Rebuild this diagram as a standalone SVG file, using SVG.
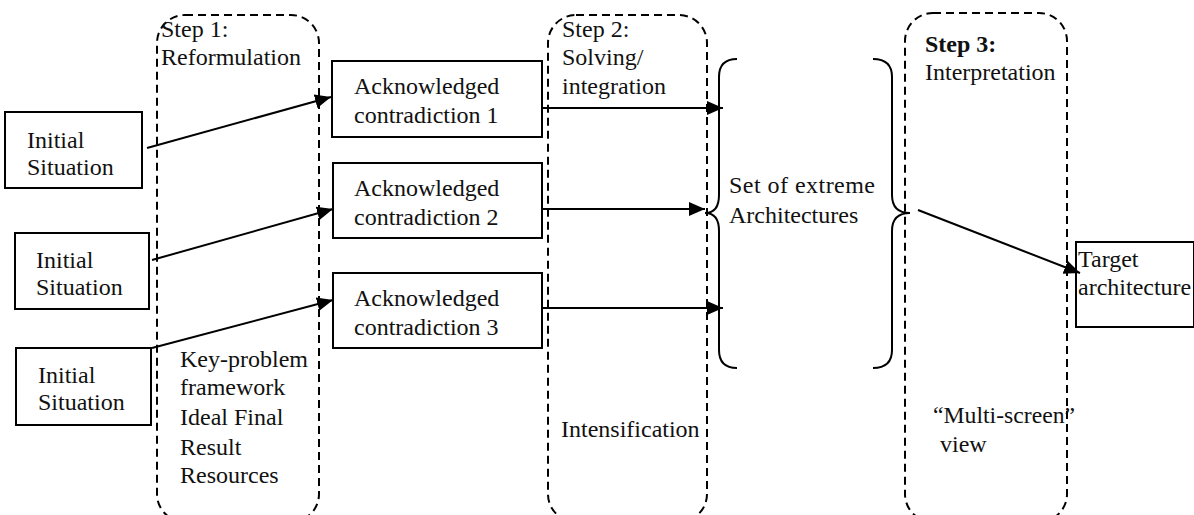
<svg xmlns="http://www.w3.org/2000/svg" width="1194" height="515" viewBox="0 0 1194 515">
<style>
text{font-family:"Liberation Serif","Times New Roman",Times,serif;font-size:24px;fill:#111}
.box{fill:#fff;stroke:#000;stroke-width:2}
.step{fill:none;stroke:#000;stroke-width:2;stroke-dasharray:8 5}
.conn{fill:none;stroke:#000;stroke-width:2}
.b{font-weight:bold}
</style>
<defs>
<marker id="arr" markerUnits="userSpaceOnUse" markerWidth="18" markerHeight="16" refX="16" refY="7" orient="auto">
<path d="M0,0 L16,7 L0,14 Z" fill="#000"/>
</marker>
</defs>
<rect width="1194" height="515" fill="#fff"/>
<g id="step1">
<rect class="step" x="157" y="15" width="162" height="507" rx="28"/>
<text x="161" y="37">Step 1:</text>
<text x="161" y="65">Reformulation</text>
<text x="180" y="367">Key-problem</text>
<text x="180" y="395">framework</text>
<text x="180" y="425">Ideal Final</text>
<text x="180" y="455">Result</text>
<text x="180" y="483">Resources</text>
</g>
<g id="step2">
<rect class="step" x="548" y="15" width="159" height="507" rx="28"/>
<text x="562" y="37">Step 2:</text>
<text x="562" y="65">Solving/</text>
<text x="562" y="94">integration</text>
<text x="561" y="437">Intensification</text>
</g>
<g id="step3">
<rect class="step" x="905" y="13" width="162" height="509" rx="28"/>
<text class="b" x="925" y="52">Step 3:</text>
<text x="925" y="80">Interpretation</text>
<text x="933" y="423" textLength="142" lengthAdjust="spacingAndGlyphs">“Multi-screen”</text>
<text x="940" y="452">view</text>
</g>
<g id="init1">
<rect class="box" x="5" y="112" width="137" height="76"/>
<text x="27" y="148">Initial</text>
<text x="27" y="175">Situation</text>
</g>
<g id="init2">
<rect class="box" x="15" y="233" width="134" height="76"/>
<text x="36" y="268">Initial</text>
<text x="36" y="295">Situation</text>
</g>
<g id="init3">
<rect class="box" x="16" y="348" width="135" height="77"/>
<text x="38" y="383">Initial</text>
<text x="38" y="410">Situation</text>
</g>
<g id="contr1">
<rect class="box" x="332" y="61" width="210" height="76"/>
<text x="354" y="94">Acknowledged</text>
<text x="354" y="123">contradiction 1</text>
</g>
<g id="contr2">
<rect class="box" x="333" y="163" width="209" height="75"/>
<text x="354" y="196">Acknowledged</text>
<text x="354" y="225">contradiction 2</text>
</g>
<g id="contr3">
<rect class="box" x="333" y="273" width="209" height="75"/>
<text x="354" y="306">Acknowledged</text>
<text x="354" y="335">contradiction 3</text>
</g>
<g id="set">
<path class="conn" d="M737,59 Q719,59 719,77 L719,195 Q719,213 705,213 Q719,213 719,231 L719,350 Q719,368 737,368"/>
<path class="conn" d="M873,59 Q892,59 892,77 L892,195 Q892,213 910,213 Q892,213 892,231 L892,350 Q892,368 873,368"/>
<text x="729" y="193" textLength="146" lengthAdjust="spacing">Set of extreme</text>
<text x="729" y="223">Architectures</text>
</g>
<g id="target">
<rect class="box" x="1076" y="242" width="118" height="85"/>
<text x="1078" y="267">Target</text>
<text x="1078" y="295">architecture</text>
</g>
<g id="connectors">
<line class="conn" x1="147" y1="148" x2="331" y2="97" marker-end="url(#arr)"/>
<line class="conn" x1="152" y1="260" x2="333" y2="209" marker-end="url(#arr)"/>
<line class="conn" x1="152" y1="348" x2="333" y2="300" marker-end="url(#arr)"/>
<line class="conn" x1="542" y1="108" x2="723" y2="108" marker-end="url(#arr)"/>
<line class="conn" x1="542" y1="209" x2="705" y2="209" marker-end="url(#arr)"/>
<line class="conn" x1="542" y1="308" x2="723" y2="308" marker-end="url(#arr)"/>
<line class="conn" x1="918" y1="210" x2="1080" y2="273" marker-end="url(#arr)"/>
</g>
</svg>
